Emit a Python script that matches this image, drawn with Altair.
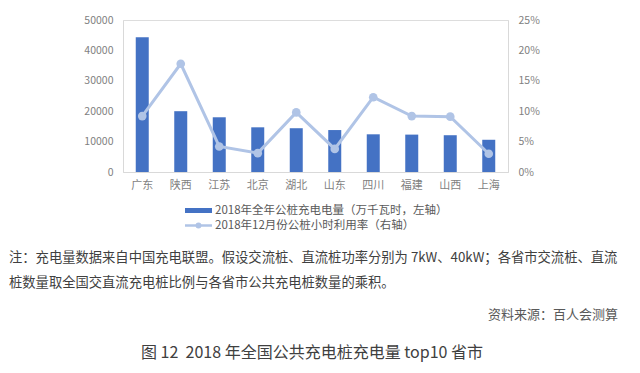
import altair as alt
import pandas as pd

provinces = ["广东", "陕西", "江苏", "北京", "湖北", "山东", "四川", "福建", "山西", "上海"]
energy = [44300, 20000, 18000, 14700, 14400, 13800, 12400, 12300, 12100, 10600]
rate = [0.092, 0.178, 0.042, 0.031, 0.098, 0.038, 0.123, 0.092, 0.091, 0.030]

legend_labels = ["2018年全年公桩充电电量（万千瓦时，左轴）", "2018年12月份公桩小时利用率（右轴）"]
note_lines = [
    "注：充电量数据来自中国充电联盟。假设交流桩、直流桩功率分别为 7kW、40kW；各省市交流桩、直流",
    "桩数量取全国交直流充电桩比例与各省市公共充电桩数量的乘积。",
]
source_text = "资料来源：百人会测算"
title_text = "图 12\u00a0\u00a02018 年全国公共充电桩充电量 top10 省市"

FONT = "Noto Sans CJK SC"
BAR_COLOR = "#4472C4"
LINE_COLOR = "#B0C4E6"
AXIS_COLOR = "#D9D9D9"
LABEL_COLOR = "#7F7F7F"

df = pd.DataFrame({"prov": provinces, "energy": energy, "rate": rate})

xenc = alt.X("prov:N", sort=provinces, title=None,
             scale=alt.Scale(paddingInner=0, paddingOuter=0),
             axis=alt.Axis(labelAngle=0, ticks=False, tickSize=0, domainColor=AXIS_COLOR,
                           labelColor=LABEL_COLOR, labelFontSize=11, labelPadding=7,
                           labelFont=FONT))

bars = alt.Chart(df).mark_bar(color=BAR_COLOR, size=13).encode(
    x=xenc,
    y=alt.Y("energy:Q", title=None,
            scale=alt.Scale(domain=[0, 50000], nice=False),
            axis=alt.Axis(values=[0, 10000, 20000, 30000, 40000, 50000], format="d",
                          grid=False, ticks=False, tickSize=0, domainColor=AXIS_COLOR,
                          labelColor=LABEL_COLOR, labelFontSize=10.5, labelPadding=10,
                          labelFont=FONT)),
)

line = alt.Chart(df).mark_line(
    color=LINE_COLOR, strokeWidth=3,
    point=alt.OverlayMarkDef(filled=True, size=75, color=LINE_COLOR, opacity=1),
).encode(
    x=xenc,
    y=alt.Y("rate:Q", title=None,
            scale=alt.Scale(domain=[0, 0.25], nice=False),
            axis=alt.Axis(orient="right", values=[0, 0.05, 0.10, 0.15, 0.20, 0.25], format=".0%",
                          grid=False, ticks=False, tickSize=0, domainColor=AXIS_COLOR,
                          labelColor=LABEL_COLOR, labelFontSize=10.5, labelPadding=10,
                          labelFont=FONT)),
)

main = alt.layer(bars, line).resolve_scale(y="independent")

# Legend
leg_bar = alt.Chart(pd.DataFrame({"label": legend_labels[:1]})).mark_rule(
    color=BAR_COLOR, strokeWidth=5).encode(
    x=alt.value(62), x2=alt.value(89), y=alt.value(190.5))
leg_line = alt.Chart(pd.DataFrame({"label": legend_labels[1:]})).mark_rule(
    color=LINE_COLOR, strokeWidth=2.5).encode(
    x=alt.value(62), x2=alt.value(89), y=alt.value(205.5))
leg_pt = alt.Chart(pd.DataFrame({"label": legend_labels[1:]})).mark_point(
    filled=True, color=LINE_COLOR, size=35, opacity=1).encode(
    x=alt.value(75.5), y=alt.value(205.5))
leg_t1 = alt.Chart(pd.DataFrame({"t": legend_labels[:1]})).mark_text(
    align="left", baseline="middle", font=FONT, fontSize=11.5, color="#595959").encode(
    x=alt.value(92), y=alt.value(190.5), text="t:N")
leg_t2 = alt.Chart(pd.DataFrame({"t": legend_labels[1:]})).mark_text(
    align="left", baseline="middle", font=FONT, fontSize=11.5, color="#595959").encode(
    x=alt.value(92), y=alt.value(205.5), text="t:N")

note1 = alt.Chart(pd.DataFrame({"t": note_lines[:1]})).mark_text(
    align="left", baseline="middle", font=FONT, fontSize=13.3, color="#404040").encode(
    x=alt.value(-114), y=alt.value(238), text="t:N")
note2 = alt.Chart(pd.DataFrame({"t": note_lines[1:]})).mark_text(
    align="left", baseline="middle", font=FONT, fontSize=13.3, color="#404040").encode(
    x=alt.value(-114), y=alt.value(263), text="t:N")
src = alt.Chart(pd.DataFrame({"t": [source_text]})).mark_text(
    align="right", baseline="middle", font=FONT, fontSize=13, color="#595959").encode(
    x=alt.value(495), y=alt.value(295), text="t:N")
ttl = alt.Chart(pd.DataFrame({"t": [title_text]})).mark_text(
    align="center", baseline="middle", font=FONT, fontSize=16, color="#404040").encode(
    x=alt.value(189), y=alt.value(333), text="t:N")

chart = alt.layer(main, leg_bar, leg_line, leg_pt, leg_t1, leg_t2, note1, note2, src, ttl).properties(
    width=385, height=152,
    autosize=alt.AutoSizeParams(type="none"),
    padding={"left": 115, "top": 12, "right": 124, "bottom": 193},
    background="white",
).configure_view(stroke=None).configure(font=FONT)

chart.save("out.html", embed_options={"renderer": "svg", "actions": False})
